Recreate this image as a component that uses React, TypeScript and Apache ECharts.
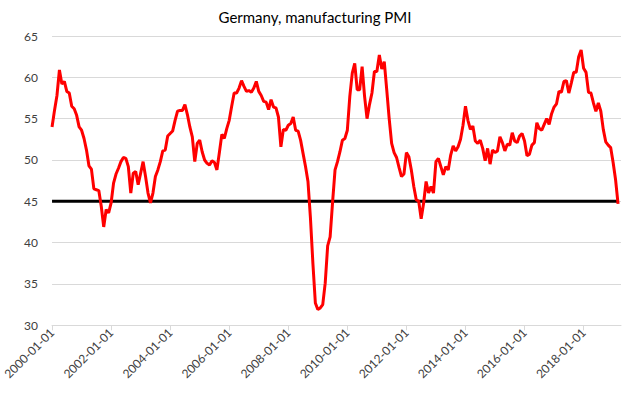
import React, { useEffect, useRef } from "react";
import * as echarts from "echarts";

// Monthly dates (first of month), Jan 2000 .. Mar 2019
const months: string[] = [];
for (let y = 2000; y <= 2019; y++) {
  for (let m = 1; m <= 12; m++) {
    if (y === 2019 && m > 3) break;
    months.push(`${y}-${String(m).padStart(2, "0")}-01`);
  }
}

// Germany manufacturing PMI
const pmi2000 = [54.0, 56.0, 57.8, 60.9, 59.2, 59.5, 58.3, 58.1, 56.5, 56.2, 55.4, 54.0];
const pmi2001 = [53.6, 52.6, 51.2, 49.3, 48.9, 46.5, 46.4, 46.3, 44.4, 41.9, 44.0, 43.6];
const pmi2002 = [44.8, 47.2, 48.3, 49.0, 49.8, 50.3, 50.2, 49.2, 46.0, 48.4, 48.6, 47.0];
const pmi2003 = [48.4, 49.8, 48.0, 46.0, 44.8, 46.0, 48.0, 48.8, 49.8, 51.1, 51.2, 52.9];
const pmi2004 = [53.2, 53.5, 54.8, 55.9, 56.0, 56.0, 56.7, 55.5, 54.0, 52.8, 49.8, 52.0];
const pmi2005 = [52.4, 51.0, 50.0, 49.6, 49.4, 49.9, 49.7, 48.8, 50.9, 53.1, 52.6, 53.8];
const pmi2006 = [54.8, 56.5, 58.1, 58.1, 58.7, 59.6, 58.9, 58.3, 58.4, 58.2, 58.7, 59.5];
const pmi2007 = [58.3, 57.8, 57.1, 57.0, 56.1, 57.3, 56.4, 56.3, 55.2, 51.6, 53.7, 53.6];
const pmi2008 = [54.2, 54.4, 55.2, 53.6, 53.5, 52.4, 50.8, 49.2, 47.4, 43.0, 37.5, 32.7];
const pmi2009 = [31.9, 32.1, 32.5, 35.1, 39.6, 40.7, 44.9, 48.8, 49.8, 51.0, 52.4, 52.6];
const pmi2010 = [53.6, 57.7, 60.5, 61.7, 58.5, 58.5, 61.3, 57.7, 55.0, 56.7, 58.1, 60.7];
const pmi2011 = [60.7, 62.7, 61.0, 61.9, 58.5, 55.0, 52.0, 50.9, 50.3, 49.1, 48.0, 48.3];
const pmi2012 = [50.9, 50.4, 48.8, 46.8, 45.2, 45.0, 42.9, 44.8, 47.4, 46.0, 46.8, 46.0];
const pmi2013 = [49.8, 50.2, 49.2, 48.2, 49.2, 48.8, 50.6, 51.7, 51.1, 51.6, 52.5, 54.2];
const pmi2014 = [56.5, 54.8, 53.7, 54.1, 52.3, 52.0, 52.4, 51.4, 49.9, 51.4, 49.5, 51.2];
const pmi2015 = [50.9, 51.1, 52.8, 52.1, 51.1, 51.9, 51.8, 53.3, 52.3, 52.1, 52.9, 53.2];
const pmi2016 = [52.3, 50.5, 50.7, 51.8, 52.1, 54.5, 53.8, 53.6, 54.3, 55.0, 54.3, 55.6];
const pmi2017 = [56.4, 56.8, 58.3, 58.2, 59.5, 59.6, 58.1, 59.3, 60.6, 60.6, 62.5, 63.3];
const pmi2018 = [61.1, 60.6, 58.2, 58.1, 56.9, 55.9, 56.9, 55.9, 53.7, 52.2, 51.8, 51.5];
const pmi2019 = [49.7, 47.6, 44.7];

const pmiValues = [
  ...pmi2000, ...pmi2001, ...pmi2002, ...pmi2003, ...pmi2004,
  ...pmi2005, ...pmi2006, ...pmi2007, ...pmi2008, ...pmi2009,
  ...pmi2010, ...pmi2011, ...pmi2012, ...pmi2013, ...pmi2014,
  ...pmi2015, ...pmi2016, ...pmi2017, ...pmi2018, ...pmi2019,
];

const THRESHOLD = 45;
const yTicks = [30, 35, 40, 45, 50, 55, 60, 65];

export default function App() {
  const ref = useRef<HTMLDivElement>(null);

  useEffect(() => {
    if (!ref.current) return;
    const chart = echarts.init(ref.current, null, { renderer: "svg" });
    const font = "Lato, 'Noto Sans', sans-serif";
    const lastIdx = pmiValues.length - 1;
    chart.setOption({
      animation: false,
      backgroundColor: "#ffffff",
      title: {
        text: "Germany, manufacturing PMI",
        left: "center",
        top: 4,
        textStyle: { fontFamily: font, fontSize: 15, fontWeight: "normal", color: "#000000" },
      },
      grid: { left: 50, right: 9, top: 36, bottom: 67.7, containLabel: false },
      xAxis: {
        type: "value",
        min: 0,
        max: 231.2,
        interval: 24,
        axisLine: { show: true, lineStyle: { color: "#d9d9d9", width: 1 } },
        axisTick: { show: true, length: 5, lineStyle: { color: "#d9d9d9" } },
        splitLine: { show: false },
        axisLabel: {
          rotate: 45,
          margin: 5,
          fontFamily: font,
          fontSize: 12,
          color: "#404040",
          showMaxLabel: false,
          formatter: (v: number) => months[Math.round(v)] ?? "",
        },
      },
      yAxis: {
        type: "value",
        min: yTicks[0],
        max: yTicks[yTicks.length - 1],
        interval: 5,
        axisLine: { show: false },
        axisTick: { show: false },
        splitLine: { show: true, lineStyle: { color: "#d9d9d9", width: 1 } },
        axisLabel: { fontFamily: font, fontSize: 12, color: "#404040", margin: 14 },
      },
      series: [
        {
          name: "threshold",
          type: "line",
          z: 1,
          symbol: "none",
          lineStyle: { color: "#000000", width: 3 },
          data: [[0, THRESHOLD], [lastIdx, THRESHOLD]],
        },
        {
          name: "PMI",
          type: "line",
          z: 2,
          symbol: "none",
          lineStyle: { color: "#ff0000", width: 3 },
          data: pmiValues.map((v, i) => [i, v]),
        },
      ],
    });
    return () => chart.dispose();
  }, []);

  return (
    <div
      ref={ref}
      style={{ position: "absolute", left: 0, top: 0, width: 630, height: 393 }}
    />
  );
}
